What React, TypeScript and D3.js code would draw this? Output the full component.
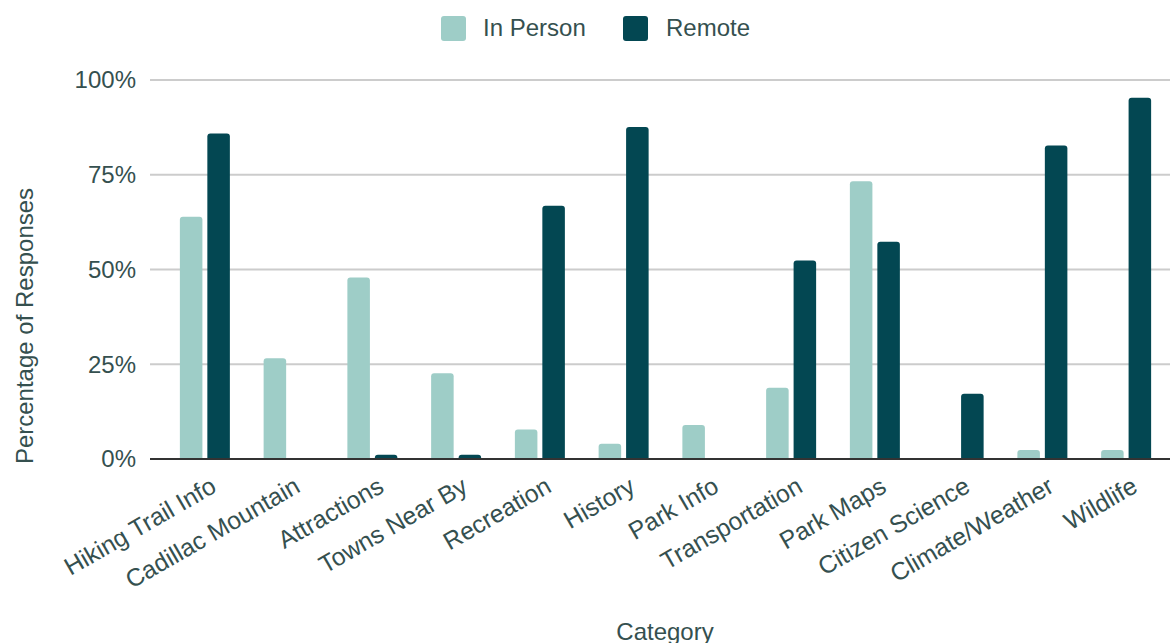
import React from "react";
import * as d3 from "d3";

const categories = [
  "Hiking Trail Info",
  "Cadillac Mountain",
  "Attractions",
  "Towns Near By",
  "Recreation",
  "History",
  "Park Info",
  "Transportation",
  "Park Maps",
  "Citizen Science",
  "Climate/Weather",
  "Wildlife",
];

const inPerson = [63.9, 26.6, 47.9, 22.6, 7.8, 4.0, 9.0, 18.8, 73.3, 0, 2.4, 2.4];
const remote = [85.9, 0, 1.1, 1.1, 66.8, 87.6, 0, 52.4, 57.3, 17.2, 82.7, 95.3];

const seriesNames = ["In Person", "Remote"];
const seriesColors = ["#9ecdc7", "#034752"];
const yTicks = [0, 25, 50, 75, 100];

const W = 1170;
const H = 643;
const textColor = "#35504f";
const font = "Arial, 'Liberation Sans', sans-serif";

function topRoundedBar(x: number, y: number, w: number, h: number, r: number) {
  const rr = Math.min(r, h, w / 2);
  const p = d3.path();
  p.moveTo(x, y + h);
  p.lineTo(x, y + rr);
  p.quadraticCurveTo(x, y, x + rr, y);
  p.lineTo(x + w - rr, y);
  p.quadraticCurveTo(x + w, y, x + w, y + rr);
  p.lineTo(x + w, y + h);
  p.closePath();
  return p.toString();
}

export default function App() {
  const plotLeft = 150;
  const plotRight = 1170;
  const x = d3.scaleBand<string>().domain(categories).range([163, 1168]).padding(0);
  const inner = d3.scaleBand<string>().domain(seriesNames).range([-25, 25]).paddingInner(0.18);
  const y = d3.scaleLinear().domain([0, 100]).range([459, 80]);
  const series = [inPerson, remote];

  return (
    <svg
      width={W}
      height={H}
      style={{ position: "absolute", left: 0, top: 0, background: "#fff" }}
      fontFamily={font}
    >
      {/* legend */}
      <g>
        <rect x={441} y={16} width={25} height={25} rx={3} fill={seriesColors[0]} />
        <text x={483} y={36} fontSize={24} fill={textColor}>
          {seriesNames[0]}
        </text>
        <rect x={623} y={16} width={25} height={25} rx={3} fill={seriesColors[1]} />
        <text x={666} y={36} fontSize={24} fill={textColor}>
          {seriesNames[1]}
        </text>
      </g>

      {/* grid + y ticks */}
      {yTicks.map((t) => (
        <g key={t}>
          {t !== 0 && (
            <line x1={plotLeft} x2={plotRight} y1={y(t)} y2={y(t)} stroke="#cccccc" strokeWidth={2} />
          )}
          <text x={136} y={y(t)} dy="0.35em" textAnchor="end" fontSize={24} fill={textColor}>
            {`${t}%`}
          </text>
        </g>
      ))}

      {/* bars */}
      {categories.map((c, i) => {
        const cx = (x(c) as number) + x.bandwidth() / 2;
        return (
          <g key={c}>
            {series.map((vals, s) => {
              const v = vals[i];
              if (!v) return null;
              const bx = cx + (inner(seriesNames[s]) as number);
              const by = y(v);
              return (
                <path
                  key={s}
                  d={topRoundedBar(bx, by, inner.bandwidth(), y(0) - by, 3)}
                  fill={seriesColors[s]}
                />
              );
            })}
          </g>
        );
      })}

      {/* baseline */}
      <line x1={plotLeft} x2={plotRight} y1={y(0)} y2={y(0)} stroke="#333333" strokeWidth={2} />

      {/* category labels */}
      {categories.map((c) => {
        const cx = (x(c) as number) + x.bandwidth() / 2;
        return (
          <text
            key={c}
            transform={`translate(${cx + 13},${y(0) + 32}) rotate(-30)`}
            textAnchor="end"
            fontSize={24.7}
            fill={textColor}
          >
            {c}
          </text>
        );
      })}

      {/* axis titles */}
      <text x={665} y={640} textAnchor="middle" fontSize={24} fill={textColor}>
        Category
      </text>
      <text
        transform={`translate(33,326) rotate(-90)`}
        textAnchor="middle"
        fontSize={24}
        fill={textColor}
      >
        Percentage of Responses
      </text>
    </svg>
  );
}
